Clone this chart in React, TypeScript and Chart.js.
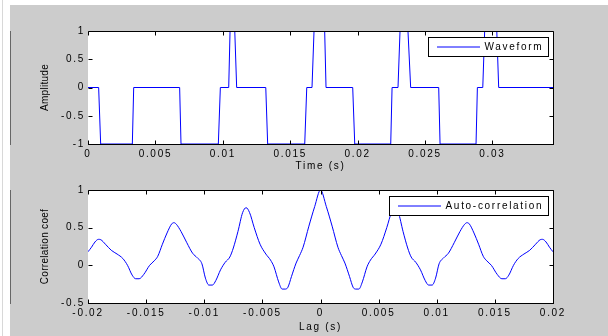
import React, { useEffect, useRef } from "react";
import { Chart, registerables } from "chart.js";

Chart.register(...registerables);

// ---------- data ----------
const waveTime = [
  0, 0.00079, 0.00094, 0.00329, 0.00339, 0.0068, 0.0069, 0.00967, 0.00982,
  0.01044, 0.01054, 0.01089, 0.01103, 0.01319, 0.01333, 0.01608, 0.01623,
  0.01662, 0.01677, 0.01756, 0.01766, 0.01964, 0.01979, 0.02246, 0.02256,
  0.023, 0.02315, 0.02374, 0.02394, 0.02602, 0.02612, 0.02879, 0.02889,
  0.02929, 0.02943, 0.03033, 0.03047, 0.0345,
];
const waveAmp = [
  0, 0, -1, -1, 0, 0, -1, -1, 0, 0, 1, 1, 0, 0, -1, -1, 0, 0, 1, 1, 0, 0, -1,
  -1, 0, 0, 1, 1, 0, 0, -1, -1, 0, 0, 1, 1, 0, 0,
];

const lagValues = [
  -0.02, -0.0197, -0.0194, -0.0191, -0.0189, -0.0185, -0.018, -0.0175, -0.017,
  -0.0166, -0.0162, -0.0159, -0.0156, -0.0152, -0.0147, -0.0143, -0.014,
  -0.0136, -0.0132, -0.0128, -0.0126, -0.0124, -0.012, -0.0115, -0.011,
  -0.0106, -0.0102, -0.0099, -0.0096, -0.0093, -0.009, -0.0086, -0.0082,
  -0.0078, -0.0075, -0.0071, -0.0067, -0.0064, -0.0061, -0.0057, -0.0052,
  -0.0047, -0.0043, -0.004, -0.0036, -0.0033, -0.003, -0.0028, -0.0025,
  -0.0021, -0.0018, -0.0015, -0.001, -0.0005, 0, 0.0005, 0.001, 0.0015,
  0.0018, 0.0021, 0.0025, 0.0028, 0.003, 0.0033, 0.0036, 0.004, 0.0043,
  0.0047, 0.0052, 0.0057, 0.0061, 0.0064, 0.0067, 0.0071, 0.0075, 0.0078,
  0.0082, 0.0086, 0.009, 0.0093, 0.0096, 0.0099, 0.0102, 0.0106, 0.011,
  0.0115, 0.012, 0.0124, 0.0126, 0.0128, 0.0132, 0.0136, 0.014, 0.0143,
  0.0147, 0.0152, 0.0156, 0.0159, 0.0162, 0.0166, 0.017, 0.0175, 0.018,
  0.0185, 0.0189, 0.0191, 0.0194, 0.0197, 0.02,
];
const corrValues = [
  0.18, 0.24, 0.31, 0.345, 0.34, 0.28, 0.2, 0.15, 0.09, 0.0, -0.13, -0.178,
  -0.178, -0.12, 0.0, 0.06, 0.12, 0.28, 0.43, 0.55, 0.566, 0.545, 0.45, 0.3,
  0.16, 0.1, 0.02, -0.17, -0.262, -0.262, -0.2, -0.06, 0.04, 0.11, 0.23, 0.45,
  0.7, 0.765, 0.7, 0.5, 0.28, 0.15, 0.07, -0.02, -0.22, -0.315, -0.315, -0.29,
  -0.15, 0.03, 0.13, 0.24, 0.52, 0.78, 1.0, 0.78, 0.52, 0.24, 0.13, 0.03,
  -0.15, -0.29, -0.315, -0.315, -0.22, -0.02, 0.07, 0.15, 0.28, 0.5, 0.7,
  0.765, 0.7, 0.45, 0.23, 0.11, 0.04, -0.06, -0.2, -0.262, -0.262, -0.17,
  0.02, 0.1, 0.16, 0.3, 0.45, 0.545, 0.566, 0.55, 0.43, 0.28, 0.12, 0.06, 0.0,
  -0.12, -0.178, -0.178, -0.13, 0.0, 0.09, 0.15, 0.2, 0.28, 0.34, 0.345, 0.31,
  0.24, 0.18,
];

const timeTicks = [0, 0.005, 0.01, 0.015, 0.02, 0.025, 0.03];
const timeTickLabels = ["0", "0.005", "0.01", "0.015", "0.02", "0.025", "0.03"];
const ampTicks = [-1, -0.5, 0, 0.5, 1];
const ampTickLabels = ["-1", "-0.5", "0", "0.5", "1"];
const lagTicks = [-0.02, -0.015, -0.01, -0.005, 0, 0.005, 0.01, 0.015, 0.02];
const lagTickLabels = ["-0.02", "-0.015", "-0.01", "-0.005", "0", "0.005", "0.01", "0.015", "0.02"];
const corrTicks = [-0.5, 0, 0.5, 1];
const corrTickLabels = ["-0.5", "0", "0.5", "1"];

const FONT = '"Liberation Sans", Arial, Helvetica, sans-serif';
const SPACING = "1.7px";

// ---------- MATLAB-style axes plugin ----------
const matlabAxes = {
  id: "matlabAxes",
  beforeDraw(chart: any) {
    const { ctx, chartArea: a } = chart;
    ctx.save();
    ctx.fillStyle = "#ffffff";
    ctx.fillRect(a.left, a.top, a.right - a.left, a.bottom - a.top);
    ctx.restore();
    ctx.letterSpacing = SPACING;
  },
  afterDatasetsDraw(chart: any) {
    chart.ctx.letterSpacing = "0.3px";
  },
  afterDraw(chart: any) {
    const { ctx, chartArea: a, scales } = chart;
    const al = (v: number) => Math.round(v) + 0.5;
    const L = al(a.left), R = al(a.right), T = al(a.top), B = al(a.bottom);
    ctx.save();
    ctx.strokeStyle = "#000";
    ctx.lineWidth = 1;
    ctx.beginPath();
    ctx.moveTo(L, T); ctx.lineTo(R, T); ctx.lineTo(R, B);
    // inward ticks
    const tl = 4;
    scales.x.ticks.forEach((t: any) => {
      const px = al(scales.x.getPixelForValue(t.value));
      ctx.moveTo(px, B); ctx.lineTo(px, B - tl);
      ctx.moveTo(px, T); ctx.lineTo(px, T + tl);
    });
    scales.y.ticks.forEach((t: any) => {
      const py = al(scales.y.getPixelForValue(t.value));
      ctx.moveTo(L, py); ctx.lineTo(L + tl, py);
      ctx.moveTo(R, py); ctx.lineTo(R - tl, py);
    });
    ctx.stroke();

    // legend box
    const ds = chart.data.datasets[0];
    ctx.font = `10px ${FONT}`;
    ctx.letterSpacing = SPACING;
    const tw = ctx.measureText(ds.label).width;
    const w = Math.round(56 + tw + 5);
    const h = 19;
    const x = Math.round(a.right - 5 - w);
    const y = Math.round(a.top + 6);
    ctx.fillStyle = "#fff";
    ctx.fillRect(x, y, w, h);
    ctx.strokeStyle = "#000";
    ctx.strokeRect(x + 0.5, y + 0.5, w, h);
    ctx.strokeStyle = ds.borderColor;
    ctx.beginPath();
    ctx.moveTo(x + 9, y + 10); ctx.lineTo(x + 52, y + 10);
    ctx.stroke();
    ctx.fillStyle = "#000";
    ctx.textBaseline = "middle";
    ctx.textAlign = "left";
    ctx.fillText(ds.label, x + 56.5, y + 10);
    ctx.letterSpacing = "0px";
    ctx.restore();
  },
};

interface PanelCfg {
  label: string;
  xs: number[];
  ys: number[];
  xMin: number; xMax: number;
  yMin: number; yMax: number;
  xTicks: number[]; xTickLabels: string[];
  yTicks: number[]; yTickLabels: string[];
  xTitle: string; yTitle: string;
  top: number; bottomH: number; xTitlePad: number;
  smooth: boolean;
}

function makeChart(canvas: HTMLCanvasElement, c: PanelCfg) {
  const font = { family: FONT, size: 10 };
  return new Chart(canvas, {
    type: "line",
    data: {
      datasets: [
        {
          label: c.label,
          data: c.xs.map((x, i) => ({ x, y: c.ys[i] })),
          borderColor: "#0000ff",
          backgroundColor: "#0000ff",
          borderWidth: 1,
          pointRadius: 0,
          tension: 0,
          cubicInterpolationMode: c.smooth ? "monotone" : "default",
          fill: false,
        },
      ],
    },
    options: {
      responsive: false,
      animation: false,
      devicePixelRatio: 1,
      events: [],
      layout: { padding: { top: c.top, right: 55, bottom: 0, left: 0 } },
      plugins: { legend: { display: false }, tooltip: { enabled: false }, title: { display: false } },
      scales: {
        x: {
          type: "linear",
          position: "bottom",
          min: c.xMin,
          max: c.xMax,
          afterFit: (s: any) => { s.height = c.bottomH; },
          afterBuildTicks: (s: any) => { s.ticks = c.xTicks.map((v) => ({ value: v })); },
          grid: { display: false, drawTicks: false },
          border: { display: true, color: "#000", width: 1 },
          ticks: {
            autoSkip: false, maxRotation: 0, includeBounds: false, padding: 4,
            color: "#000", font,
            callback: (_v: any, i: number) => c.xTickLabels[i],
          },
          title: { display: true, text: c.xTitle, color: "#000", font, padding: { top: 0, bottom: c.xTitlePad } },
        },
        y: {
          type: "linear",
          position: "left",
          min: c.yMin,
          max: c.yMax,
          afterFit: (s: any) => { s.width = 78; },
          afterBuildTicks: (s: any) => { s.ticks = c.yTicks.map((v) => ({ value: v })); },
          grid: { display: false, drawTicks: false, z: 1 },
          border: { display: true, color: "#000", width: 1 },
          ticks: {
            autoSkip: false, includeBounds: false, padding: 3, color: "#000", font,
            callback: (_v: any, i: number) => c.yTickLabels[i],
          },
          title: { display: true, text: c.yTitle, color: "#000", font, padding: { top: 29, bottom: 0 } },
        },
      },
    },
    plugins: [matlabAxes],
  } as any);
}

export default function App() {
  const topRef = useRef<HTMLCanvasElement>(null);
  const botRef = useRef<HTMLCanvasElement>(null);

  useEffect(() => {
    const c1 = makeChart(topRef.current!, {
      label: "Waveform",
      xs: waveTime, ys: waveAmp,
      xMin: 0, xMax: 0.0345, yMin: -1, yMax: 1,
      xTicks: timeTicks, xTickLabels: timeTickLabels,
      yTicks: ampTicks, yTickLabels: ampTickLabels,
      xTitle: "Time (s)", yTitle: "Amplitude",
      top: 26, bottomH: 28, xTitlePad: 0, smooth: false,
    });
    const c2 = makeChart(botRef.current!, {
      label: "Auto-correlation",
      xs: lagValues, ys: corrValues,
      xMin: -0.02, xMax: 0.02, yMin: -0.5, yMax: 1,
      xTicks: lagTicks, xTickLabels: lagTickLabels,
      yTicks: corrTicks, yTickLabels: corrTickLabels,
      xTitle: "Lag (s)", yTitle: "Correlation coef",
      top: 18, bottomH: 33, xTitlePad: 3, smooth: true,
    });
    return () => { c1.destroy(); c2.destroy(); };
  }, []);

  return (
    <div style={{ position: "fixed", left: 0, top: 0, width: 608, height: 336, background: "#fff", overflow: "hidden" }}>
      <div style={{ position: "absolute", left: 2, top: 0, width: 1, height: 336, background: "#d8d8d8" }} />
      <div style={{ position: "absolute", left: 10, top: 5, width: 598, height: 331, background: "#cccccc" }}>
        <canvas ref={topRef} width={598} height={167} style={{ position: "absolute", left: 0, top: 0, display: "block" }} />
        <canvas ref={botRef} width={598} height={164} style={{ position: "absolute", left: 0, top: 167, display: "block" }} />
      </div>
    </div>
  );
}
